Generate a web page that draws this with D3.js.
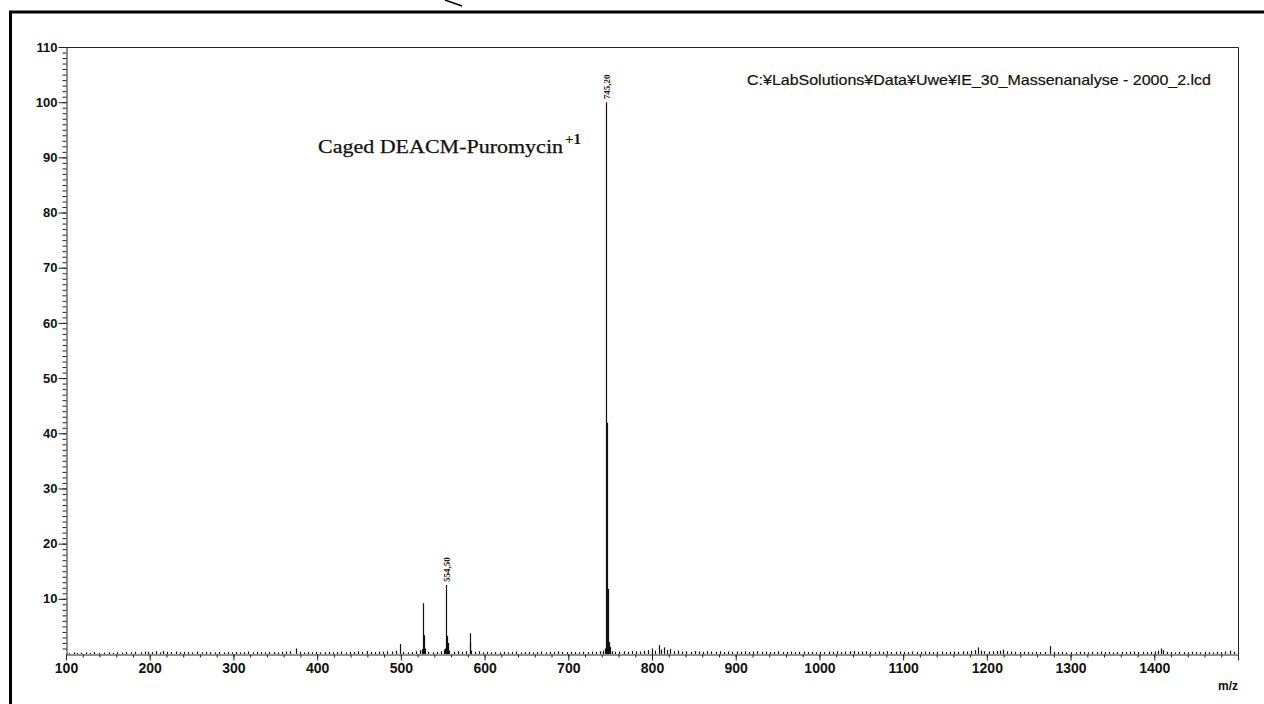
<!DOCTYPE html>
<html><head><meta charset="utf-8">
<script src="https://cdn.jsdelivr.net/npm/d3@7"></script>
<style>body{margin:0;background:#fff}svg{display:block}</style>
</head><body><svg id="c" width="1264" height="704"></svg>
<script>
// ---- data ----
const xTickValues = [100,200,300,400,500,600,700,800,900,1000,1100,1200,1300,1400,1500];
const xTickLabels = ["100","200","300","400","500","600","700","800","900","1000","1100","1200","1300","1400",""];
const yTickValues = [10,20,30,40,50,60,70,80,90,100,110];
const majorMz  = [499, 527, 528, 529, 553, 554.5, 555.5, 556.5, 582, 583, 744, 745.2, 746.2, 747.2, 748.2, 749.9, 800, 808, 814, 821, 1189, 1219, 1275.6, 1408];
const majorInt = [1.8, 9.2, 3.4, 1.0, 1.0, 12.5, 3.3, 2.0, 3.75, 2.2, 1.0, 100, 41.9, 11.8, 2.2, 1.3, 1.0, 1.6, 1.2, 0.9, 1.2, 0.8, 1.45, 1.0];
const labelMz = [554.5, 745.2];
const labelInt = [12.5, 100];
const labelText = ["554,50", "745,20"];
const minorPeaks = [
[104,0.2],[109,0.3],[113,0.2],[118,0.25],[124,0.3],[129,0.2],[134,0.35],[139,0.2],[145,0.25],[151,0.3],[156,0.2],[161,0.3],[167,0.25],[172,0.35],[178,0.3],[183,0.4],[189,0.3],[194,0.45],[198,0.4],
[203,0.35],[207,0.5],[212,0.3],[216,0.55],[221,0.4],[226,0.35],[231,0.45],[236,0.3],[241,0.4],[246,0.35],[251,0.3],[257,0.45],[262,0.3],[267,0.4],[272,0.35],[278,0.3],[283,0.4],[289,0.3],[294,0.35],[298,0.3],
[303,0.4],[308,0.3],[313,0.35],[318,0.45],[323,0.3],[328,0.4],[333,0.35],[338,0.3],[343,0.4],[348,0.35],[353,0.3],[358,0.4],[363,0.45],[368,0.5],[374.5,1.0],[379,0.4],[384,0.3],[389,0.35],[394,0.3],[399,0.4],
[404,0.3],[409,0.35],[414,0.4],[419,0.3],[424,0.35],[429,0.45],[434,0.3],[439,0.4],[444,0.35],[449,0.5],[454,0.4],[459,0.55],[464,0.4],[469,0.35],[474,0.45],[479,0.4],[484,0.5],[489,0.45],[494,0.6],
[503,0.4],[508,0.3],[513,0.35],[518,0.5],[523,0.7],[525,0.9],[533,0.4],[538,0.3],[543,0.4],[548,0.5],[551,0.8],[558,0.6],[563,0.4],[568,0.5],[573,0.4],[578,0.5],[584,0.6],[588,0.4],[593,0.5],[598,0.3],
[603,0.4],[608,0.3],[613,0.35],[618,0.3],[623,0.4],[628,0.3],[633,0.35],[638,0.45],[643,0.3],[648,0.35],[653,0.4],[658,0.3],[663,0.35],[668,0.45],[673,0.3],[678,0.4],[683,0.35],[688,0.5],[693,0.4],[698,0.35],
[703,0.4],[708,0.35],[713,0.3],[718,0.4],[723,0.35],[728,0.45],[733,0.4],[738,0.5],[742,0.6],[752,0.5],[756,0.4],[761,0.45],[766,0.5],[771,0.4],[776,0.55],[781,0.5],[786,0.45],[791,0.6],[795,0.7],
[804,0.6],[811,0.8],[818,0.7],[826,0.5],[831,0.6],[836,0.45],[841,0.5],[846,0.4],[851,0.55],[856,0.45],[861,0.4],[866,0.5],[871,0.45],[876,0.4],[881,0.5],[886,0.35],[891,0.45],[896,0.4],
[901,0.45],[906,0.4],[911,0.5],[916,0.35],[921,0.45],[926,0.5],[931,0.4],[936,0.45],[941,0.35],[946,0.4],[951,0.5],[956,0.35],[961,0.4],[966,0.45],[971,0.35],[976,0.4],[981,0.45],[986,0.35],[991,0.4],[996,0.3],
[1001,0.4],[1006,0.35],[1011,0.45],[1016,0.4],[1021,0.5],[1026,0.35],[1031,0.45],[1036,0.5],[1041,0.55],[1046,0.4],[1051,0.45],[1056,0.5],[1061,0.4],[1066,0.35],[1071,0.45],[1076,0.4],[1081,0.5],[1086,0.35],[1091,0.4],[1096,0.45],
[1101,0.4],[1106,0.35],[1111,0.45],[1116,0.4],[1121,0.35],[1126,0.45],[1131,0.4],[1136,0.35],[1141,0.4],[1146,0.45],[1151,0.35],[1156,0.4],[1161,0.45],[1166,0.4],[1171,0.5],[1176,0.45],[1181,0.55],[1186,0.7],[1193,0.6],[1197,0.5],
[1202,0.45],[1207,0.5],[1212,0.55],[1216,0.6],[1224,0.5],[1229,0.45],[1234,0.4],[1239,0.35],[1244,0.4],[1249,0.35],[1254,0.3],[1259,0.4],[1264,0.35],[1270,0.4],[1280,0.4],[1285,0.35],[1290,0.4],[1295,0.3],
[1301,0.35],[1306,0.3],[1311,0.4],[1316,0.35],[1321,0.3],[1326,0.4],[1331,0.35],[1336,0.45],[1341,0.35],[1346,0.4],[1351,0.3],[1356,0.35],[1361,0.4],[1366,0.35],[1371,0.4],[1376,0.45],[1381,0.35],[1386,0.4],[1391,0.35],[1396,0.4],
[1401,0.45],[1405,0.6],[1411,0.7],[1415,0.4],[1420,0.35],[1425,0.3],[1430,0.4],[1435,0.35],[1440,0.3],[1445,0.4],[1450,0.35],[1455,0.3],[1460,0.4],[1465,0.35],[1470,0.3],[1475,0.4],[1480,0.35],[1485,0.45],[1490,0.6],[1495,0.4]
];
const filePath = "C:\u00a5LabSolutions\u00a5Data\u00a5Uwe\u00a5IE_30_Massenanalyse - 2000_2.lcd";
const compoundLabel = "Caged DEACM-Puromycin";
const chargeLabel = "+1";
const xAxisTitle = "m/z";

// ---- drawing ----
const svg = d3.select("#c");
const x = d3.scaleLinear().domain([100,1500]).range([66,1238]);
const y = d3.scaleLinear().domain([0,110]).range([654,47]);

// outer frame
svg.append("path").attr("d","M10.5,704 L10.5,12 L1264,12").attr("fill","none").attr("stroke","#000").attr("stroke-width",3);
svg.append("line").attr("x1",445).attr("y1",0).attr("x2",462).attr("y2",6).attr("stroke","#000").attr("stroke-width",1.5);

// plot frame top/right
svg.append("path").attr("d",`M${x(100)},${y(110)+0.5} L${x(1500)+0.5},${y(110)+0.5} L${x(1500)+0.5},${y(0)}`)
  .attr("fill","none").attr("stroke","#222").attr("stroke-width",1);

// sticks
const all = minorPeaks.map(d=>({mz:d[0],v:d[1]})).concat(majorMz.map((m,i)=>({mz:m,v:majorInt[i]})));
svg.append("g").selectAll("line").data(all).join("line")
  .attr("x1",d=>Math.round(x(d.mz))+0.5).attr("x2",d=>Math.round(x(d.mz))+0.5)
  .attr("y1",y(0)).attr("y2",d=>y(d.v))
  .attr("stroke","#111").attr("stroke-width",1.2);

// y axis minor
const yMinor = d3.range(1,111);
svg.append("g").attr("transform",`translate(${x(100)+0.5},0)`)
  .call(d3.axisLeft(y).tickValues(yMinor).tickSize(4).tickFormat(""))
  .call(g=>g.select(".domain").remove())
  .selectAll("line").attr("stroke","#222");
// y axis major
const yAx = svg.append("g").attr("transform",`translate(${x(100)+0.5},0)`)
  .call(d3.axisLeft(y).tickValues(yTickValues).tickSize(8).tickPadding(1).tickSizeOuter(0));
yAx.select(".domain").attr("stroke","#222");
yAx.selectAll("line").attr("stroke","#222");
yAx.selectAll("text").attr("font-family","Liberation Sans, Arial, sans-serif").attr("font-size",13).attr("font-weight","bold").attr("fill","#111");

// x axis minor
const xMinor = d3.range(100,1501,20);
svg.append("g").attr("transform",`translate(0,${y(0)+0.5})`)
  .call(d3.axisBottom(x).tickValues(xMinor).tickSize(3).tickFormat(""))
  .call(g=>g.select(".domain").remove())
  .selectAll("line").attr("stroke","#222");
const xAx = svg.append("g").attr("transform",`translate(0,${y(0)+0.5})`)
  .call(d3.axisBottom(x).tickValues(xTickValues).tickSize(6).tickPadding(3).tickSizeOuter(0)
    .tickFormat((d,i)=>xTickLabels[i]));
xAx.select(".domain").attr("stroke","#222");
xAx.selectAll("line").attr("stroke","#222");
xAx.selectAll("text").attr("font-family","Liberation Sans, Arial, sans-serif").attr("font-size",14).attr("font-weight","bold").attr("fill","#111");

svg.append("text").attr("x",x(1500)).attr("y",690).attr("text-anchor","end")
  .attr("font-family","Liberation Sans, Arial, sans-serif").attr("font-size",12).attr("font-weight","bold").attr("fill","#111").text(xAxisTitle);

// peak labels
labelMz.forEach((m,i)=>{
  const px = Math.round(x(m))+0.5, py = y(labelInt[i]);
  svg.append("text").attr("transform",`translate(${px+3},${py-3}) rotate(-90)`)
    .attr("font-family","Liberation Serif, Times New Roman, serif").attr("font-size",9).attr("font-weight","bold")
    .attr("fill","#111").text(labelText[i]);
});

// file path
svg.append("text").attr("x",747).attr("y",85).attr("font-family","Liberation Sans, Arial, sans-serif")
  .attr("font-size",15).attr("fill","#111").attr("stroke","#111").attr("stroke-width",0.2)
  .attr("textLength",464).attr("lengthAdjust","spacingAndGlyphs").text(filePath);

// compound label
svg.append("text").attr("x",318).attr("y",153).attr("font-family","Liberation Serif, Times New Roman, serif")
  .attr("font-size",19).attr("fill","#111").attr("stroke","#111").attr("stroke-width",0.25)
  .attr("textLength",245).attr("lengthAdjust","spacingAndGlyphs").text(compoundLabel);
svg.append("text").attr("x",565).attr("y",144).attr("font-family","Liberation Serif, Times New Roman, serif")
  .attr("font-size",15).attr("font-weight","bold").attr("fill","#111").text(chargeLabel);
</script></body></html>
